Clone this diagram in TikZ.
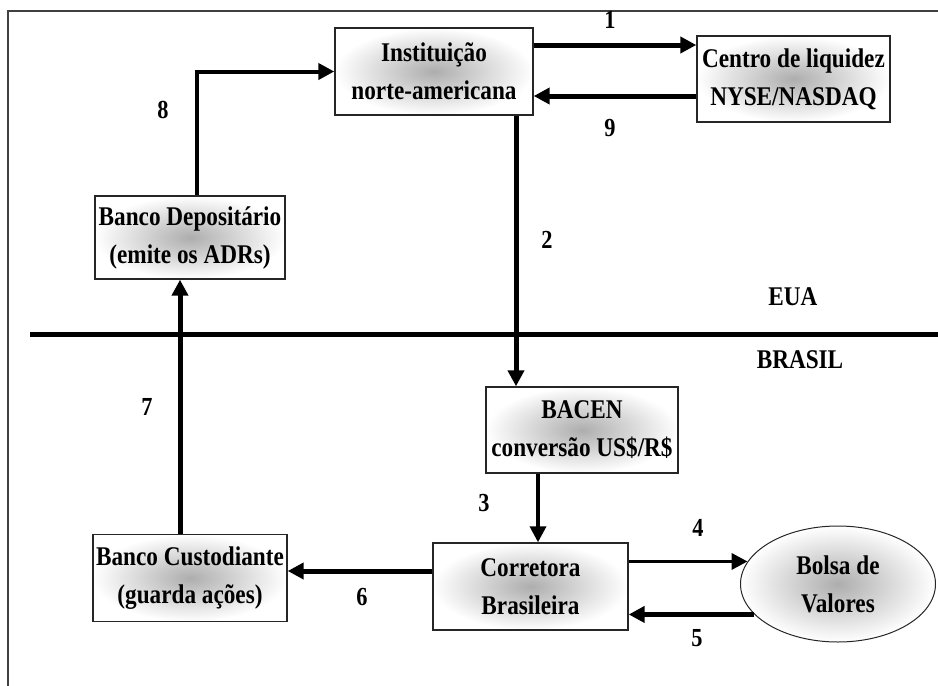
\documentclass[tikz,border=0pt]{standalone}
\usepackage{fontspec}
\setmainfont{Liberation Serif}[FakeStretch=0.86]
\usetikzlibrary{arrows.meta,shapes.geometric}

\begin{document}
\begin{tikzpicture}[x=1pt,y=-1pt]
\tikzstyle{every node}+=[inner sep=0pt, font=\fontsize{27}{38}\selectfont\bfseries]
\tikzstyle{box}=[draw=black!85, line width=1.4pt, rectangle, align=center, inner color=black!32, outer color=white]
\tikzstyle{flow}=[line width=5pt, -{Triangle[length=16pt,width=16pt]}]
\tikzstyle{num}=[font=\fontsize{26}{26}\selectfont\bfseries]
\useasboundingbox (0,0) rectangle (938,686);
% frame
\draw [black!75, line width=1.5pt] (8,686) -- (8,11) -- (938,11);
% boxes
\node [box, minimum width=198, minimum height=87] (inst) at (434,71.5) {Instituição\\norte-americana};
\node [box, minimum width=193, minimum height=86] (centro) at (793.5,79) {Centro de liquidez\\NYSE/NASDAQ};
\node [box, minimum width=190, minimum height=83] (dep) at (190,237.5) {Banco Depositário\\(emite os ADRs)};
\node [box, minimum width=192, minimum height=86] (bacen) at (582,430) {BACEN\\conversão US\$/R\$};
\node [box, minimum width=195, minimum height=87] (corr) at (530.5,586.5) {Corretora\\Brasileira};
\node [box, minimum width=194, minimum height=87] (cust) at (190,578) {Banco Custodiante\\(guarda ações)};
\node [box, ellipse, minimum width=195, minimum height=116, line width=1pt] (bolsa) at (838,584) {Bolsa de\\Valores};
% border EUA / BRASIL
\draw [line width=5pt] (30,334) -- (938,334);
\node (eua) at (793,297) {EUA};
\node (brasil) at (800,360) {BRASIL};
% flows
\draw [flow] (inst.east |- 0,45) -- (centro.west |- 0,45);
\draw [flow] (centro.west |- 0,96) -- (inst.east |- 0,96);
\draw [flow, line width=4pt] (dep.north -| 197,0) |- (inst.west);
\draw [flow] (inst.south -| 516,0) -- (bacen.north -| 516,0);
\draw [flow] (cust.north -| 180,0) -- (dep.south -| 180,0);
\draw [flow, line width=3.5pt] (bacen.south -| 538,0) -- (corr.north -| 538,0);
\draw [flow, line width=3.5pt] (corr.east |- bolsa.166) -- (bolsa.166);
\draw [flow] (bolsa.200) -- (corr.east |- bolsa.200);
\draw [flow] (corr.west |- 0,571) -- (cust.east |- 0,571);
% numbers
\node [num] (l1) at (610,20) {1};
\node [num] (l2) at (547,240) {2};
\node [num] (l3) at (484,503) {3};
\node [num] (l4) at (698,528) {4};
\node [num] (l5) at (697,638) {5};
\node [num] (l6) at (362,597) {6};
\node [num] (l7) at (147,407) {7};
\node [num] (l8) at (163,110) {8};
\node [num] (l9) at (610,128) {9};
\end{tikzpicture}
\end{document}
